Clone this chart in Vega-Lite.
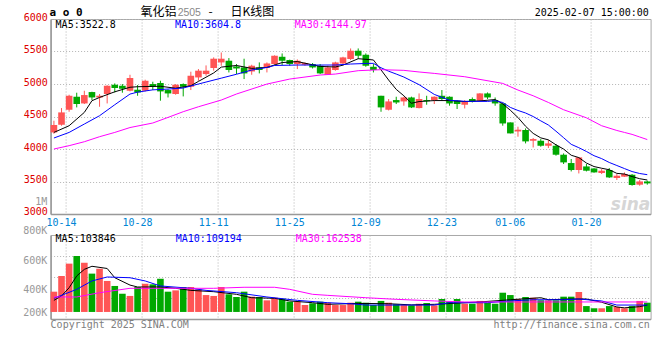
{
"$schema": "https://vega.github.io/schema/vega-lite/v6.json",
"padding": {"left": 22.6, "top": 5, "right": 0, "bottom": 0},
"background": "#ffffff",
"bounds": "flush",
"spacing": 21,
"config": {
  "view": {"stroke": "#a8a8a8", "strokeWidth": 1},
  "axis": {"labelFont": "DejaVu Sans Mono", "labelFontSize": 10, "ticks": false, "tickSize": 0, "domainColor": "#999999", "domainWidth": 1.5, "gridColor": "#b4b4b4", "gridDash": [1, 2], "gridWidth": 1, "title": null, "labelOverlap": false},
  "text": {"font": "DejaVu Sans Mono", "fontSize": 10},
  "line": {"strokeWidth": 1}
},
"datasets": {
  "k": [
    {"d":"10-11","o":4255,"h":4435,"l":4235,"c":4369,"v":390000},
    {"d":"10-14","o":4373,"h":4630,"l":4358,"c":4563,"v":497000},
    {"d":"10-15","o":4604,"h":4835,"l":4573,"c":4819,"v":581000},
    {"d":"10-16","o":4804,"h":4866,"l":4640,"c":4692,"v":633000},
    {"d":"10-17","o":4701,"h":4896,"l":4692,"c":4830,"v":587000},
    {"d":"10-18","o":4876,"h":4881,"l":4753,"c":4793,"v":513000},
    {"d":"10-21","o":4793,"h":4846,"l":4650,"c":4819,"v":546000},
    {"d":"10-22","o":4846,"h":4980,"l":4701,"c":4973,"v":463000},
    {"d":"10-23","o":4989,"h":5009,"l":4870,"c":4938,"v":429000},
    {"d":"10-24","o":4973,"h":4999,"l":4866,"c":4927,"v":376000},
    {"d":"10-25","o":4896,"h":5142,"l":4886,"c":5092,"v":361000},
    {"d":"10-28","o":4912,"h":4984,"l":4819,"c":4870,"v":422000},
    {"d":"10-29","o":4896,"h":5066,"l":4886,"c":5050,"v":444000},
    {"d":"10-30","o":4999,"h":5035,"l":4907,"c":4958,"v":440000},
    {"d":"10-31","o":5015,"h":5050,"l":4743,"c":4886,"v":478000},
    {"d":"11-01","o":4907,"h":4917,"l":4793,"c":4855,"v":390000},
    {"d":"11-04","o":4846,"h":4999,"l":4835,"c":4989,"v":399000},
    {"d":"11-05","o":4999,"h":5009,"l":4809,"c":4958,"v":422000},
    {"d":"11-06","o":4958,"h":5189,"l":4907,"c":5127,"v":422000},
    {"d":"11-07","o":5101,"h":5230,"l":5050,"c":5205,"v":406000},
    {"d":"11-08","o":5153,"h":5286,"l":5127,"c":5205,"v":367000},
    {"d":"11-11","o":5246,"h":5409,"l":5205,"c":5389,"v":361000},
    {"d":"11-12","o":5332,"h":5485,"l":5281,"c":5389,"v":422000},
    {"d":"11-13","o":5358,"h":5399,"l":5178,"c":5215,"v":372000},
    {"d":"11-14","o":5270,"h":5307,"l":5153,"c":5239,"v":354000},
    {"d":"11-15","o":5255,"h":5389,"l":5076,"c":5163,"v":390000},
    {"d":"11-18","o":5193,"h":5296,"l":5142,"c":5281,"v":356000},
    {"d":"11-19","o":5255,"h":5332,"l":5163,"c":5215,"v":354000},
    {"d":"11-20","o":5246,"h":5332,"l":5178,"c":5316,"v":331000},
    {"d":"11-21","o":5307,"h":5440,"l":5296,"c":5435,"v":349000},
    {"d":"11-22","o":5419,"h":5470,"l":5292,"c":5358,"v":342000},
    {"d":"11-25","o":5369,"h":5375,"l":5281,"c":5307,"v":322000},
    {"d":"11-26","o":5307,"h":5378,"l":5230,"c":5358,"v":322000},
    {"d":"11-27","o":5296,"h":5332,"l":5281,"c":5322,"v":299000},
    {"d":"11-28","o":5307,"h":5322,"l":5239,"c":5255,"v":311000},
    {"d":"11-29","o":5281,"h":5307,"l":5153,"c":5163,"v":322000},
    {"d":"12-02","o":5142,"h":5281,"l":5138,"c":5255,"v":315000},
    {"d":"12-03","o":5215,"h":5343,"l":5205,"c":5332,"v":299000},
    {"d":"12-04","o":5316,"h":5419,"l":5307,"c":5409,"v":299000},
    {"d":"12-05","o":5384,"h":5547,"l":5369,"c":5512,"v":315000},
    {"d":"12-06","o":5512,"h":5547,"l":5384,"c":5435,"v":322000},
    {"d":"12-09","o":5450,"h":5470,"l":5265,"c":5281,"v":315000},
    {"d":"12-10","o":5265,"h":5307,"l":5178,"c":5215,"v":299000},
    {"d":"12-11","o":4819,"h":4819,"l":4573,"c":4640,"v":327000},
    {"d":"12-12","o":4604,"h":4769,"l":4593,"c":4732,"v":315000},
    {"d":"12-13","o":4753,"h":4804,"l":4692,"c":4716,"v":304000},
    {"d":"12-16","o":4732,"h":4805,"l":4666,"c":4793,"v":299000},
    {"d":"12-17","o":4793,"h":4805,"l":4630,"c":4640,"v":297000},
    {"d":"12-18","o":4630,"h":4855,"l":4625,"c":4769,"v":308000},
    {"d":"12-19","o":4753,"h":4819,"l":4681,"c":4735,"v":313000},
    {"d":"12-20","o":4753,"h":4810,"l":4692,"c":4804,"v":297000},
    {"d":"12-23","o":4819,"h":4907,"l":4743,"c":4769,"v":340000},
    {"d":"12-24","o":4804,"h":4810,"l":4666,"c":4701,"v":322000},
    {"d":"12-25","o":4743,"h":4750,"l":4615,"c":4692,"v":340000},
    {"d":"12-26","o":4681,"h":4753,"l":4624,"c":4727,"v":308000},
    {"d":"12-27","o":4769,"h":4793,"l":4716,"c":4727,"v":308000},
    {"d":"12-30","o":4743,"h":4860,"l":4740,"c":4855,"v":327000},
    {"d":"12-31","o":4855,"h":4870,"l":4769,"c":4793,"v":315000},
    {"d":"01-02","o":4753,"h":4793,"l":4666,"c":4701,"v":308000},
    {"d":"01-03","o":4701,"h":4701,"l":4358,"c":4393,"v":383000},
    {"d":"01-06","o":4409,"h":4409,"l":4240,"c":4240,"v":367000},
    {"d":"01-07","o":4270,"h":4343,"l":4189,"c":4297,"v":340000},
    {"d":"01-08","o":4292,"h":4317,"l":4086,"c":4117,"v":354000},
    {"d":"01-09","o":4127,"h":4169,"l":4024,"c":4153,"v":349000},
    {"d":"01-10","o":4127,"h":4153,"l":4035,"c":4050,"v":331000},
    {"d":"01-13","o":4050,"h":4138,"l":4015,"c":4086,"v":331000},
    {"d":"01-14","o":4050,"h":4077,"l":3897,"c":3912,"v":331000},
    {"d":"01-15","o":3912,"h":3932,"l":3769,"c":3794,"v":356000},
    {"d":"01-16","o":3784,"h":3846,"l":3655,"c":3677,"v":356000},
    {"d":"01-17","o":3677,"h":3871,"l":3624,"c":3871,"v":388000},
    {"d":"01-20","o":3732,"h":3769,"l":3655,"c":3666,"v":292000},
    {"d":"01-21","o":3701,"h":3705,"l":3635,"c":3640,"v":277000},
    {"d":"01-22","o":3631,"h":3692,"l":3615,"c":3666,"v":277000},
    {"d":"01-23","o":3677,"h":3707,"l":3554,"c":3563,"v":292000},
    {"d":"01-24","o":3554,"h":3615,"l":3523,"c":3589,"v":286000},
    {"d":"01-27","o":3574,"h":3640,"l":3570,"c":3615,"v":277000},
    {"d":"02-05","o":3604,"h":3615,"l":3435,"c":3446,"v":292000},
    {"d":"02-06","o":3451,"h":3523,"l":3435,"c":3501,"v":327000},
    {"d":"02-07","o":3501,"h":3512,"l":3451,"c":3471,"v":315000}
  ],
  "ma": [
    {"s":"MA5","d":"10-11","p":4255},{"s":"MA5","d":"10-15","p":4358},{"s":"MA5","d":"10-17","p":4563},{"s":"MA5","d":"10-18","p":4743},{"s":"MA5","d":"10-21","p":4793},{"s":"MA5","d":"10-23","p":4880},{"s":"MA5","d":"10-25","p":4950},{"s":"MA5","d":"10-28","p":4958},{"s":"MA5","d":"10-31","p":4965},{"s":"MA5","d":"11-04","p":4935},{"s":"MA5","d":"11-06","p":4973},{"s":"MA5","d":"11-07","p":5040},{"s":"MA5","d":"11-11","p":5170},{"s":"MA5","d":"11-12","p":5260},{"s":"MA5","d":"11-14","p":5285},{"s":"MA5","d":"11-18","p":5240},{"s":"MA5","d":"11-20","p":5255},{"s":"MA5","d":"11-22","p":5330},{"s":"MA5","d":"11-26","p":5345},{"s":"MA5","d":"11-29","p":5270},{"s":"MA5","d":"12-03","p":5262},{"s":"MA5","d":"12-04","p":5290},{"s":"MA5","d":"12-06","p":5389},{"s":"MA5","d":"12-10","p":5370},{"s":"MA5","d":"12-11","p":5217},{"s":"MA5","d":"12-12","p":5061},{"s":"MA5","d":"12-13","p":4917},{"s":"MA5","d":"12-16","p":4819},{"s":"MA5","d":"12-17","p":4704},{"s":"MA5","d":"12-18","p":4730},{"s":"MA5","d":"12-20","p":4745},{"s":"MA5","d":"12-24","p":4745},{"s":"MA5","d":"12-26","p":4730},{"s":"MA5","d":"12-30","p":4740},{"s":"MA5","d":"01-02","p":4761},{"s":"MA5","d":"01-03","p":4694},{"s":"MA5","d":"01-06","p":4596},{"s":"MA5","d":"01-07","p":4485},{"s":"MA5","d":"01-08","p":4350},{"s":"MA5","d":"01-09","p":4240},{"s":"MA5","d":"01-10","p":4171},{"s":"MA5","d":"01-13","p":4141},{"s":"MA5","d":"01-14","p":4064},{"s":"MA5","d":"01-15","p":3999},{"s":"MA5","d":"01-16","p":3904},{"s":"MA5","d":"01-17","p":3868},{"s":"MA5","d":"01-20","p":3784},{"s":"MA5","d":"01-21","p":3730},{"s":"MA5","d":"01-22","p":3704},{"s":"MA5","d":"01-23","p":3681},{"s":"MA5","d":"01-24","p":3625},{"s":"MA5","d":"01-27","p":3615},{"s":"MA5","d":"02-05","p":3576},{"s":"MA5","d":"02-06","p":3543},{"s":"MA5","d":"02-07","p":3523},
    {"s":"MA10","d":"10-11","p":4169},{"s":"MA10","d":"10-15","p":4255},{"s":"MA10","d":"10-17","p":4384},{"s":"MA10","d":"10-21","p":4512},{"s":"MA10","d":"10-23","p":4681},{"s":"MA10","d":"10-25","p":4845},{"s":"MA10","d":"10-28","p":4875},{"s":"MA10","d":"10-30","p":4910},{"s":"MA10","d":"11-01","p":4922},{"s":"MA10","d":"11-05","p":4938},{"s":"MA10","d":"11-07","p":5000},{"s":"MA10","d":"11-12","p":5090},{"s":"MA10","d":"11-14","p":5150},{"s":"MA10","d":"11-18","p":5215},{"s":"MA10","d":"11-20","p":5255},{"s":"MA10","d":"11-21","p":5285},{"s":"MA10","d":"11-26","p":5292},{"s":"MA10","d":"11-29","p":5292},{"s":"MA10","d":"12-03","p":5292},{"s":"MA10","d":"12-05","p":5307},{"s":"MA10","d":"12-09","p":5316},{"s":"MA10","d":"12-10","p":5318},{"s":"MA10","d":"12-11","p":5250},{"s":"MA10","d":"12-12","p":5197},{"s":"MA10","d":"12-13","p":5153},{"s":"MA10","d":"12-16","p":5107},{"s":"MA10","d":"12-18","p":4990},{"s":"MA10","d":"12-20","p":4840},{"s":"MA10","d":"12-24","p":4750},{"s":"MA10","d":"12-26","p":4733},{"s":"MA10","d":"12-31","p":4732},{"s":"MA10","d":"01-02","p":4743},{"s":"MA10","d":"01-03","p":4715},{"s":"MA10","d":"01-06","p":4640},{"s":"MA10","d":"01-07","p":4593},{"s":"MA10","d":"01-08","p":4554},{"s":"MA10","d":"01-09","p":4500},{"s":"MA10","d":"01-10","p":4433},{"s":"MA10","d":"01-13","p":4369},{"s":"MA10","d":"01-14","p":4274},{"s":"MA10","d":"01-15","p":4174},{"s":"MA10","d":"01-16","p":4072},{"s":"MA10","d":"01-17","p":4020},{"s":"MA10","d":"01-20","p":3962},{"s":"MA10","d":"01-21","p":3897},{"s":"MA10","d":"01-22","p":3852},{"s":"MA10","d":"01-23","p":3793},{"s":"MA10","d":"01-24","p":3746},{"s":"MA10","d":"01-27","p":3699},{"s":"MA10","d":"02-05","p":3653},{"s":"MA10","d":"02-06","p":3623},{"s":"MA10","d":"02-07","p":3605},
    {"s":"MA30","d":"10-11","p":4000},{"s":"MA30","d":"10-15","p":4051},{"s":"MA30","d":"10-17","p":4112},{"s":"MA30","d":"10-21","p":4189},{"s":"MA30","d":"10-23","p":4255},{"s":"MA30","d":"10-25","p":4330},{"s":"MA30","d":"10-30","p":4400},{"s":"MA30","d":"11-01","p":4486},{"s":"MA30","d":"11-05","p":4574},{"s":"MA30","d":"11-07","p":4650},{"s":"MA30","d":"11-12","p":4753},{"s":"MA30","d":"11-14","p":4846},{"s":"MA30","d":"11-20","p":4999},{"s":"MA30","d":"11-25","p":5076},{"s":"MA30","d":"11-29","p":5138},{"s":"MA30","d":"12-03","p":5153},{"s":"MA30","d":"12-06","p":5205},{"s":"MA30","d":"12-11","p":5220},{"s":"MA30","d":"12-16","p":5210},{"s":"MA30","d":"12-18","p":5185},{"s":"MA30","d":"12-20","p":5163},{"s":"MA30","d":"12-26","p":5112},{"s":"MA30","d":"01-03","p":5009},{"s":"MA30","d":"01-07","p":4907},{"s":"MA30","d":"01-09","p":4819},{"s":"MA30","d":"01-13","p":4716},{"s":"MA30","d":"01-15","p":4604},{"s":"MA30","d":"01-20","p":4480},{"s":"MA30","d":"01-22","p":4358},{"s":"MA30","d":"01-24","p":4285},{"s":"MA30","d":"01-27","p":4255},{"s":"MA30","d":"02-05","p":4225},{"s":"MA30","d":"02-06","p":4185},{"s":"MA30","d":"02-07","p":4145}
  ],
  "vma": [
    {"s":"MA5","d":"10-11","v":331000},{"s":"MA5","d":"10-14","v":361000},{"s":"MA5","d":"10-15","v":417000},{"s":"MA5","d":"10-16","v":497000},{"s":"MA5","d":"10-17","v":542000},{"s":"MA5","d":"10-18","v":563000},{"s":"MA5","d":"10-22","v":548000},{"s":"MA5","d":"10-23","v":485000},{"s":"MA5","d":"10-25","v":435000},{"s":"MA5","d":"10-28","v":422000},{"s":"MA5","d":"10-31","v":422000},{"s":"MA5","d":"11-04","v":413000},{"s":"MA5","d":"11-06","v":399000},{"s":"MA5","d":"11-11","v":390000},{"s":"MA5","d":"11-14","v":372000},{"s":"MA5","d":"11-18","v":349000},{"s":"MA5","d":"11-21","v":345000},{"s":"MA5","d":"11-25","v":327000},{"s":"MA5","d":"11-28","v":315000},{"s":"MA5","d":"12-02","v":304000},{"s":"MA5","d":"12-06","v":310000},{"s":"MA5","d":"12-12","v":308000},{"s":"MA5","d":"12-17","v":300000},{"s":"MA5","d":"12-20","v":304000},{"s":"MA5","d":"12-30","v":320000},{"s":"MA5","d":"01-06","v":335000},{"s":"MA5","d":"01-10","v":349000},{"s":"MA5","d":"01-13","v":335000},{"s":"MA5","d":"01-16","v":340000},{"s":"MA5","d":"01-20","v":340000},{"s":"MA5","d":"01-22","v":318000},{"s":"MA5","d":"01-24","v":286000},{"s":"MA5","d":"01-27","v":280000},{"s":"MA5","d":"02-06","v":288000},{"s":"MA5","d":"02-07","v":299000},
    {"s":"MA10","d":"10-11","v":345000},{"s":"MA10","d":"10-16","v":406000},{"s":"MA10","d":"10-18","v":463000},{"s":"MA10","d":"10-22","v":490000},{"s":"MA10","d":"10-25","v":485000},{"s":"MA10","d":"10-29","v":463000},{"s":"MA10","d":"10-31","v":429000},{"s":"MA10","d":"11-06","v":413000},{"s":"MA10","d":"11-08","v":399000},{"s":"MA10","d":"11-14","v":383000},{"s":"MA10","d":"11-20","v":354000},{"s":"MA10","d":"11-26","v":331000},{"s":"MA10","d":"12-02","v":315000},{"s":"MA10","d":"12-05","v":308000},{"s":"MA10","d":"12-09","v":299000},{"s":"MA10","d":"12-20","v":299000},{"s":"MA10","d":"12-24","v":315000},{"s":"MA10","d":"12-31","v":315000},{"s":"MA10","d":"01-06","v":327000},{"s":"MA10","d":"01-09","v":335000},{"s":"MA10","d":"01-15","v":335000},{"s":"MA10","d":"01-17","v":340000},{"s":"MA10","d":"01-22","v":327000},{"s":"MA10","d":"01-24","v":299000},{"s":"MA10","d":"02-07","v":299000},
    {"s":"MA30","d":"10-11","v":354000},{"s":"MA30","d":"10-16","v":354000},{"s":"MA30","d":"10-21","v":383000},{"s":"MA30","d":"10-25","v":413000},{"s":"MA30","d":"11-11","v":413000},{"s":"MA30","d":"11-15","v":420000},{"s":"MA30","d":"11-21","v":420000},{"s":"MA30","d":"11-25","v":406000},{"s":"MA30","d":"11-28","v":372000},{"s":"MA30","d":"12-02","v":365000},{"s":"MA30","d":"12-09","v":349000},{"s":"MA30","d":"12-13","v":338000},{"s":"MA30","d":"12-20","v":327000},{"s":"MA30","d":"12-26","v":320000},{"s":"MA30","d":"02-07","v":320000}
  ],
  "vlab": [
    {"t":1000000,"lab":"1M"},{"t":800000,"lab":"800K"},{"t":600000,"lab":"600K"},{"t":400000,"lab":"400K"}
  ]
},
"vconcat": [
  {
    "width": 600,
    "height": 195,
    "encoding": {
      "x": {"field": "d", "type": "ordinal", "sort": ["10-11","10-14","10-15","10-16","10-17","10-18","10-21","10-22","10-23","10-24","10-25","10-28","10-29","10-30","10-31","11-01","11-04","11-05","11-06","11-07","11-08","11-11","11-12","11-13","11-14","11-15","11-18","11-19","11-20","11-21","11-22","11-25","11-26","11-27","11-28","11-29","12-02","12-03","12-04","12-05","12-06","12-09","12-10","12-11","12-12","12-13","12-16","12-17","12-18","12-19","12-20","12-23","12-24","12-25","12-26","12-27","12-30","12-31","01-02","01-03","01-06","01-07","01-08","01-09","01-10","01-13","01-14","01-15","01-16","01-17","01-20","01-21","01-22","01-23","01-24","01-27","02-05","02-06","02-07"],
        "scale": {"domain": ["10-11","10-14","10-15","10-16","10-17","10-18","10-21","10-22","10-23","10-24","10-25","10-28","10-29","10-30","10-31","11-01","11-04","11-05","11-06","11-07","11-08","11-11","11-12","11-13","11-14","11-15","11-18","11-19","11-20","11-21","11-22","11-25","11-26","11-27","11-28","11-29","12-02","12-03","12-04","12-05","12-06","12-09","12-10","12-11","12-12","12-13","12-16","12-17","12-18","12-19","12-20","12-23","12-24","12-25","12-26","12-27","12-30","12-31","01-02","01-03","01-06","01-07","01-08","01-09","01-10","01-13","01-14","01-15","01-16","01-17","01-20","01-21","01-22","01-23","01-24","01-27","02-05","02-06","02-07"], "paddingInner": 0.13, "paddingOuter": 0},
        "axis": {"values": ["10-14","10-28","11-11","11-25","12-09","12-23","01-06","01-20"], "bandPosition": 1.15, "labelColor": "#0085d5", "labelPadding": 4, "grid": true, "labelAngle": 0}
      }
    },
    "layer": [
      {"data": {"values": [{}]}, "mark": {"type": "text", "align": "right", "baseline": "middle", "font": "DejaVu Sans", "fontSize": 17, "fontStyle": "italic", "fontWeight": "bold", "color": "#d6d6d6", "dx": 3},
       "encoding": {"x": {"datum": "02-07", "type": "ordinal", "axis": {"values": ["10-14","10-28","11-11","11-25","12-09","12-23","01-06","01-20"], "bandPosition": 1.15, "labelColor": "#0085d5", "labelPadding": 4, "grid": true, "labelAngle": 0}},
                    "y": {"datum": 3140, "type": "quantitative", "axis": {"values": [3000, 3500, 4000, 4500, 5000, 5500, 6000], "format": "d", "labelColor": "#dd0000", "labelPadding": 3.3, "labelOffset": -2, "grid": true}},
                    "text": {"value": "sina"}}},
      {"data": {"name": "k"}, "mark": {"type": "rule", "strokeWidth": 1},
       "encoding": {
         "y": {"field": "l", "type": "quantitative", "scale": {"domain": [3000, 6000], "nice": false, "zero": false},
               "axis": {"values": [3000, 3500, 4000, 4500, 5000, 5500, 6000], "format": "d", "labelColor": "#dd0000", "labelPadding": 3.3, "labelOffset": -2, "grid": true}},
         "y2": {"field": "h"},
         "color": {"condition": {"test": "datum.c >= datum.o", "value": "#ff5555"}, "value": "#00a800"}
       }},
      {"data": {"name": "k"}, "mark": {"type": "bar"},
       "encoding": {
         "y": {"field": "o", "type": "quantitative", "axis": {"values": [3000, 3500, 4000, 4500, 5000, 5500, 6000], "format": "d", "labelColor": "#dd0000", "labelPadding": 3.3, "labelOffset": -2, "grid": true}},
         "y2": {"field": "c"},
         "color": {"condition": {"test": "datum.c >= datum.o", "value": "#ff5555"}, "value": "#00a800"}
       }},
      {"data": {"name": "ma"}, "mark": {"type": "line", "strokeWidth": 1},
       "encoding": {
         "y": {"field": "p", "type": "quantitative", "axis": {"values": [3000, 3500, 4000, 4500, 5000, 5500, 6000], "format": "d", "labelColor": "#dd0000", "labelPadding": 3.3, "labelOffset": -2, "grid": true}},
         "color": {"field": "s", "type": "nominal", "scale": {"domain": ["MA5", "MA10", "MA30"], "range": ["#000000", "#0000ff", "#ff00ff"]}, "legend": null}
       }},
      {"data": {"values": [{}]}, "mark": {"type": "text", "align": "left", "baseline": "middle", "fontWeight": "bold", "fontSize": 11, "dx": -4.3, "dy": -6.5, "color": "#000000"},
       "encoding": {"x": {"datum": "10-11", "type": "ordinal", "axis": {"values": ["10-14","10-28","11-11","11-25","12-09","12-23","01-06","01-20"], "bandPosition": 1.15, "labelColor": "#0085d5", "labelPadding": 4, "grid": true, "labelAngle": 0}},
                    "y": {"datum": 6000, "type": "quantitative", "axis": {"values": [3000, 3500, 4000, 4500, 5000, 5500, 6000], "format": "d", "labelColor": "#dd0000", "labelPadding": 3.3, "labelOffset": -2, "grid": true}},
                    "text": {"value": "a o 0"}}},
      {"data": {"values": [{}]}, "mark": {"type": "text", "align": "left", "baseline": "middle", "font": "Noto Sans CJK SC", "fontSize": 12, "dx": 3, "dy": -7, "color": "#000000"},
       "encoding": {"x": {"datum": "10-28", "type": "ordinal", "axis": {"values": ["10-14","10-28","11-11","11-25","12-09","12-23","01-06","01-20"], "bandPosition": 1.15, "labelColor": "#0085d5", "labelPadding": 4, "grid": true, "labelAngle": 0}},
                    "y": {"datum": 6000, "type": "quantitative", "axis": {"values": [3000, 3500, 4000, 4500, 5000, 5500, 6000], "format": "d", "labelColor": "#dd0000", "labelPadding": 3.3, "labelOffset": -2, "grid": true}},
                    "text": {"value": "氧化铝"}}},
      {"data": {"values": [{}]}, "mark": {"type": "text", "align": "left", "baseline": "middle", "font": "Liberation Sans", "fontSize": 10.5, "dx": 2, "dy": -6.5, "color": "#888888"},
       "encoding": {"x": {"datum": "11-04", "type": "ordinal", "axis": {"values": ["10-14","10-28","11-11","11-25","12-09","12-23","01-06","01-20"], "bandPosition": 1.15, "labelColor": "#0085d5", "labelPadding": 4, "grid": true, "labelAngle": 0}},
                    "y": {"datum": 6000, "type": "quantitative", "axis": {"values": [3000, 3500, 4000, 4500, 5000, 5500, 6000], "format": "d", "labelColor": "#dd0000", "labelPadding": 3.3, "labelOffset": -2, "grid": true}},
                    "text": {"value": "2505"}}},
      {"data": {"values": [{}]}, "mark": {"type": "text", "align": "center", "baseline": "middle", "font": "Noto Sans CJK SC", "fontSize": 12, "dx": 4.6, "dy": -7, "color": "#000000"},
       "encoding": {"x": {"datum": "11-08", "type": "ordinal", "axis": {"values": ["10-14","10-28","11-11","11-25","12-09","12-23","01-06","01-20"], "bandPosition": 1.15, "labelColor": "#0085d5", "labelPadding": 4, "grid": true, "labelAngle": 0}},
                    "y": {"datum": 6000, "type": "quantitative", "axis": {"values": [3000, 3500, 4000, 4500, 5000, 5500, 6000], "format": "d", "labelColor": "#dd0000", "labelPadding": 3.3, "labelOffset": -2, "grid": true}},
                    "text": {"value": "-"}}},
      {"data": {"values": [{}]}, "mark": {"type": "text", "align": "left", "baseline": "middle", "font": "Noto Sans CJK SC", "fontSize": 12, "dx": 1.7, "dy": -7, "color": "#000000"},
       "encoding": {"x": {"datum": "11-13", "type": "ordinal", "axis": {"values": ["10-14","10-28","11-11","11-25","12-09","12-23","01-06","01-20"], "bandPosition": 1.15, "labelColor": "#0085d5", "labelPadding": 4, "grid": true, "labelAngle": 0}},
                    "y": {"datum": 6000, "type": "quantitative", "axis": {"values": [3000, 3500, 4000, 4500, 5000, 5500, 6000], "format": "d", "labelColor": "#dd0000", "labelPadding": 3.3, "labelOffset": -2, "grid": true}},
                    "text": {"value": "日K线图"}}},
      {"data": {"values": [{}]}, "mark": {"type": "text", "align": "right", "baseline": "middle", "dx": 1.6, "dy": -6.5, "color": "#000000"},
       "encoding": {"x": {"datum": "02-07", "type": "ordinal", "axis": {"values": ["10-14","10-28","11-11","11-25","12-09","12-23","01-06","01-20"], "bandPosition": 1.15, "labelColor": "#0085d5", "labelPadding": 4, "grid": true, "labelAngle": 0}},
                    "y": {"datum": 6000, "type": "quantitative", "axis": {"values": [3000, 3500, 4000, 4500, 5000, 5500, 6000], "format": "d", "labelColor": "#dd0000", "labelPadding": 3.3, "labelOffset": -2, "grid": true}},
                    "text": {"value": "2025-02-07 15:00:00"}}},
      {"data": {"values": [{}]}, "mark": {"type": "text", "align": "left", "baseline": "middle", "dx": 1.7, "dy": 5.5, "color": "#000000"},
       "encoding": {"x": {"datum": "10-11", "type": "ordinal", "axis": {"values": ["10-14","10-28","11-11","11-25","12-09","12-23","01-06","01-20"], "bandPosition": 1.15, "labelColor": "#0085d5", "labelPadding": 4, "grid": true, "labelAngle": 0}},
                    "y": {"datum": 6000, "type": "quantitative", "axis": {"values": [3000, 3500, 4000, 4500, 5000, 5500, 6000], "format": "d", "labelColor": "#dd0000", "labelPadding": 3.3, "labelOffset": -2, "grid": true}},
                    "text": {"value": "MA5:3522.8"}}},
      {"data": {"values": [{}]}, "mark": {"type": "text", "align": "left", "baseline": "middle", "dx": -0.7, "dy": 5.5, "color": "#0000ff"},
       "encoding": {"x": {"datum": "11-04", "type": "ordinal", "axis": {"values": ["10-14","10-28","11-11","11-25","12-09","12-23","01-06","01-20"], "bandPosition": 1.15, "labelColor": "#0085d5", "labelPadding": 4, "grid": true, "labelAngle": 0}},
                    "y": {"datum": 6000, "type": "quantitative", "axis": {"values": [3000, 3500, 4000, 4500, 5000, 5500, 6000], "format": "d", "labelColor": "#dd0000", "labelPadding": 3.3, "labelOffset": -2, "grid": true}},
                    "text": {"value": "MA10:3604.8"}}},
      {"data": {"values": [{}]}, "mark": {"type": "text", "align": "left", "baseline": "middle", "dx": -2.7, "dy": 5.5, "color": "#ff00ff"},
       "encoding": {"x": {"datum": "11-26", "type": "ordinal", "axis": {"values": ["10-14","10-28","11-11","11-25","12-09","12-23","01-06","01-20"], "bandPosition": 1.15, "labelColor": "#0085d5", "labelPadding": 4, "grid": true, "labelAngle": 0}},
                    "y": {"datum": 6000, "type": "quantitative", "axis": {"values": [3000, 3500, 4000, 4500, 5000, 5500, 6000], "format": "d", "labelColor": "#dd0000", "labelPadding": 3.3, "labelOffset": -2, "grid": true}},
                    "text": {"value": "MA30:4144.97"}}}
    ]
  },
  {
    "width": 600,
    "height": 84,
    "encoding": {
      "x": {"field": "d", "type": "ordinal", "sort": ["10-11","10-14","10-15","10-16","10-17","10-18","10-21","10-22","10-23","10-24","10-25","10-28","10-29","10-30","10-31","11-01","11-04","11-05","11-06","11-07","11-08","11-11","11-12","11-13","11-14","11-15","11-18","11-19","11-20","11-21","11-22","11-25","11-26","11-27","11-28","11-29","12-02","12-03","12-04","12-05","12-06","12-09","12-10","12-11","12-12","12-13","12-16","12-17","12-18","12-19","12-20","12-23","12-24","12-25","12-26","12-27","12-30","12-31","01-02","01-03","01-06","01-07","01-08","01-09","01-10","01-13","01-14","01-15","01-16","01-17","01-20","01-21","01-22","01-23","01-24","01-27","02-05","02-06","02-07"],
        "scale": {"domain": ["10-11","10-14","10-15","10-16","10-17","10-18","10-21","10-22","10-23","10-24","10-25","10-28","10-29","10-30","10-31","11-01","11-04","11-05","11-06","11-07","11-08","11-11","11-12","11-13","11-14","11-15","11-18","11-19","11-20","11-21","11-22","11-25","11-26","11-27","11-28","11-29","12-02","12-03","12-04","12-05","12-06","12-09","12-10","12-11","12-12","12-13","12-16","12-17","12-18","12-19","12-20","12-23","12-24","12-25","12-26","12-27","12-30","12-31","01-02","01-03","01-06","01-07","01-08","01-09","01-10","01-13","01-14","01-15","01-16","01-17","01-20","01-21","01-22","01-23","01-24","01-27","02-05","02-06","02-07"], "paddingInner": 0.13, "paddingOuter": 0},
        "axis": {"values": ["10-14","10-28","11-11","11-25","12-09","12-23","01-06","01-20"], "bandPosition": 1.15, "labels": false, "grid": true}
      }
    },
    "layer": [
      {"data": {"name": "k"}, "mark": {"type": "bar"},
       "encoding": {
         "y": {"field": "v", "type": "quantitative", "scale": {"domain": [204000, 776000], "nice": false, "zero": false},
               "axis": {"values": [348000, 490000, 632000], "labels": false, "grid": true}},
         "y2": {"datum": 252000},
         "color": {"condition": {"test": "datum.c >= datum.o", "value": "#ff5555"}, "value": "#00a800"}
       }},
      {"data": {"name": "vma"}, "mark": {"type": "line", "strokeWidth": 1},
       "encoding": {
         "y": {"field": "v", "type": "quantitative", "axis": {"values": [348000, 490000, 632000], "labels": false, "grid": true}},
         "color": {"field": "s", "type": "nominal", "scale": {"domain": ["MA5", "MA10", "MA30"], "range": ["#000000", "#0000ff", "#ff00ff"]}, "legend": null}
       }},
      {"data": {"name": "vlab"}, "mark": {"type": "text", "align": "right", "baseline": "middle", "dx": -6.6, "color": "#999999"},
       "encoding": {
         "x": {"datum": "10-11", "type": "ordinal", "axis": {"values": ["10-14","10-28","11-11","11-25","12-09","12-23","01-06","01-20"], "bandPosition": 1.15, "labels": false, "grid": true}},
         "y": {"field": "t", "type": "quantitative", "axis": {"values": [348000, 490000, 632000], "labels": false, "grid": true}},
         "text": {"field": "lab"}
       }},
      {"data": {"values": [{}]}, "mark": {"type": "text", "align": "right", "baseline": "middle", "dx": -6.6, "dy": -7, "color": "#999999"},
       "encoding": {"x": {"datum": "10-11", "type": "ordinal", "axis": {"values": ["10-14","10-28","11-11","11-25","12-09","12-23","01-06","01-20"], "bandPosition": 1.15, "labels": false, "grid": true}},
                    "y": {"datum": 200000, "type": "quantitative", "axis": {"values": [348000, 490000, 632000], "labels": false, "grid": true}},
                    "text": {"value": "200K"}}},
      {"data": {"values": [{}]}, "mark": {"type": "text", "align": "left", "baseline": "middle", "dx": 1.7, "dy": 4.5, "color": "#000000"},
       "encoding": {"x": {"datum": "10-11", "type": "ordinal", "axis": {"values": ["10-14","10-28","11-11","11-25","12-09","12-23","01-06","01-20"], "bandPosition": 1.15, "labels": false, "grid": true}},
                    "y": {"datum": 776000, "type": "quantitative", "axis": {"values": [348000, 490000, 632000], "labels": false, "grid": true}},
                    "text": {"value": "MA5:103846"}}},
      {"data": {"values": [{}]}, "mark": {"type": "text", "align": "left", "baseline": "middle", "dx": 0, "dy": 4.5, "color": "#0000ff"},
       "encoding": {"x": {"datum": "11-04", "type": "ordinal", "axis": {"values": ["10-14","10-28","11-11","11-25","12-09","12-23","01-06","01-20"], "bandPosition": 1.15, "labels": false, "grid": true}},
                    "y": {"datum": 776000, "type": "quantitative", "axis": {"values": [348000, 490000, 632000], "labels": false, "grid": true}},
                    "text": {"value": "MA10:109194"}}},
      {"data": {"values": [{}]}, "mark": {"type": "text", "align": "left", "baseline": "middle", "dx": -1.7, "dy": 4.5, "color": "#ff00ff"},
       "encoding": {"x": {"datum": "11-26", "type": "ordinal", "axis": {"values": ["10-14","10-28","11-11","11-25","12-09","12-23","01-06","01-20"], "bandPosition": 1.15, "labels": false, "grid": true}},
                    "y": {"datum": 776000, "type": "quantitative", "axis": {"values": [348000, 490000, 632000], "labels": false, "grid": true}},
                    "text": {"value": "MA30:162538"}}},
      {"data": {"values": [{}]}, "mark": {"type": "text", "align": "left", "baseline": "middle", "dx": -3.3, "dy": 6, "color": "#808080"},
       "encoding": {"x": {"datum": "10-11", "type": "ordinal", "axis": {"values": ["10-14","10-28","11-11","11-25","12-09","12-23","01-06","01-20"], "bandPosition": 1.15, "labels": false, "grid": true}},
                    "y": {"datum": 204000, "type": "quantitative", "axis": {"values": [348000, 490000, 632000], "labels": false, "grid": true}},
                    "text": {"value": "Copyright 2025 SINA.COM"}}},
      {"data": {"values": [{}]}, "mark": {"type": "text", "align": "right", "baseline": "middle", "dx": 2.6, "dy": 6, "color": "#808080"},
       "encoding": {"x": {"datum": "02-07", "type": "ordinal", "axis": {"values": ["10-14","10-28","11-11","11-25","12-09","12-23","01-06","01-20"], "bandPosition": 1.15, "labels": false, "grid": true}},
                    "y": {"datum": 204000, "type": "quantitative", "axis": {"values": [348000, 490000, 632000], "labels": false, "grid": true}},
                    "text": {"value": "http://finance.sina.com.cn"}}}
    ]
  }
]
}
